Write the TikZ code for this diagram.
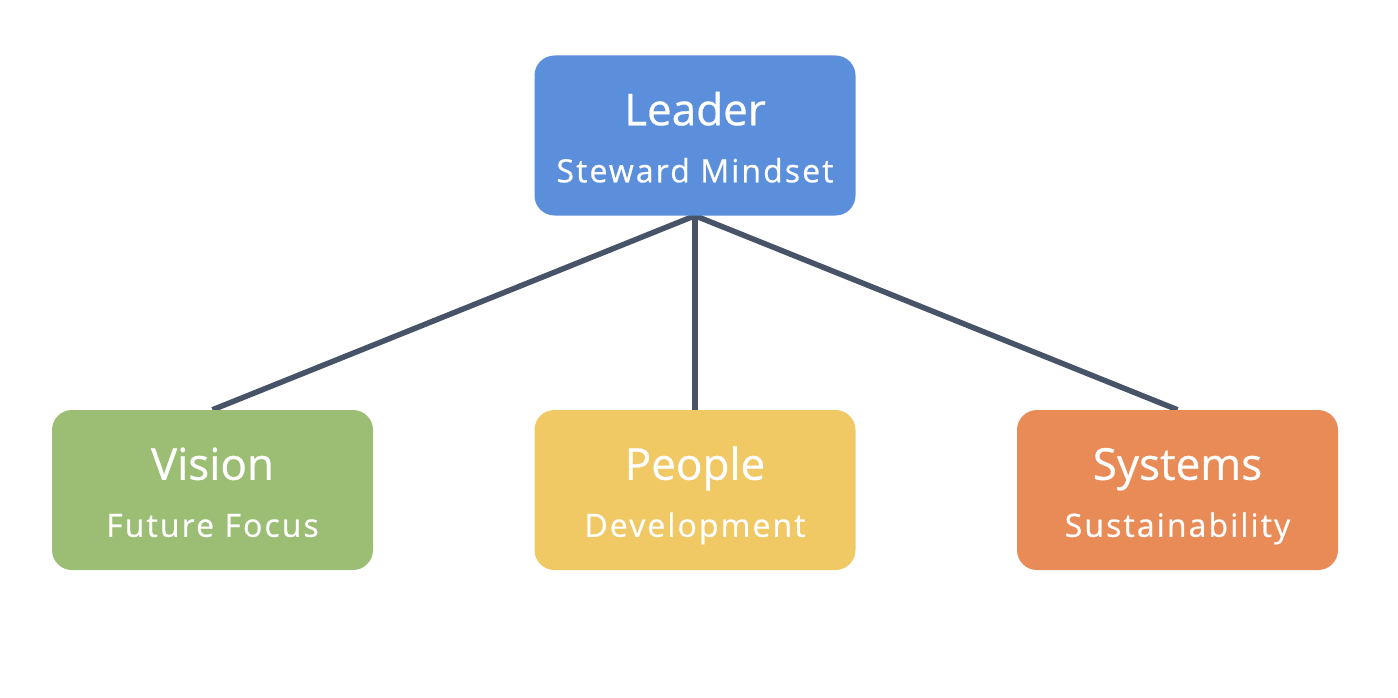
\documentclass[tikz,border=0pt]{standalone}
\usepackage{fontspec}
\setmainfont{Open Sans}
\newfontfamily\subfont[LetterSpace=6.5,FakeBold=0.6]{Open Sans}
\newfontfamily\ttlfont[FakeBold=0.6]{Open Sans}
\usetikzlibrary{calc,backgrounds}
\definecolor{cblue}{HTML}{5B8FDC}
\definecolor{cgreen}{HTML}{9BBD74}
\definecolor{cyellow}{HTML}{F0C864}
\definecolor{corange}{HTML}{E98B57}
\definecolor{cline}{HTML}{475467}
\tikzset{
  box/.style={rectangle, rounded corners=20pt, minimum width=321pt, minimum height=160pt, inner sep=0pt, draw=none},
  ttl/.style={anchor=base, text=white, font=\ttlfont\fontsize{44}{48}\selectfont, inner sep=0pt},
  sub/.style={anchor=base, text=white, font=\subfont\fontsize{32}{36}\selectfont, inner sep=0pt},
  conn/.style={draw=cline, line width=5.5pt}
}
\begin{document}
\begin{tikzpicture}[x=1pt,y=-1pt]
\useasboundingbox (0,0) rectangle (1398,698);
\node[box, fill=cblue] (leader) at (695,135.5) {};
\node[box, fill=cgreen] (vision) at (212.5,490) {};
\node[box, fill=cyellow] (people) at (695,490) {};
\node[box, fill=corange] (systems) at (1177.5,490) {};
\begin{scope}[on background layer]
\draw[conn] (leader.south) -- (vision.north);
\draw[conn] (leader.south) -- (people.north);
\draw[conn] (leader.south) -- (systems.north);
\end{scope}
\node[ttl] (leaderT) at ($(leader.north)+(0,70)$) {Leader};
\node[sub] (leaderS) at ($(leader.north)+(0,127)$) {Steward Mindset};
\node[ttl] (visionT) at ($(vision.north)+(0,70)$) {Vision};
\node[sub] (visionS) at ($(vision.north)+(0,127)$) {Future Focus};
\node[ttl] (peopleT) at ($(people.north)+(0,70)$) {People};
\node[sub] (peopleS) at ($(people.north)+(0,127)$) {Development};
\node[ttl] (systemsT) at ($(systems.north)+(0,70)$) {Systems};
\node[sub] (systemsS) at ($(systems.north)+(0,127)$) {Sustainability};
\end{tikzpicture}
\end{document}
